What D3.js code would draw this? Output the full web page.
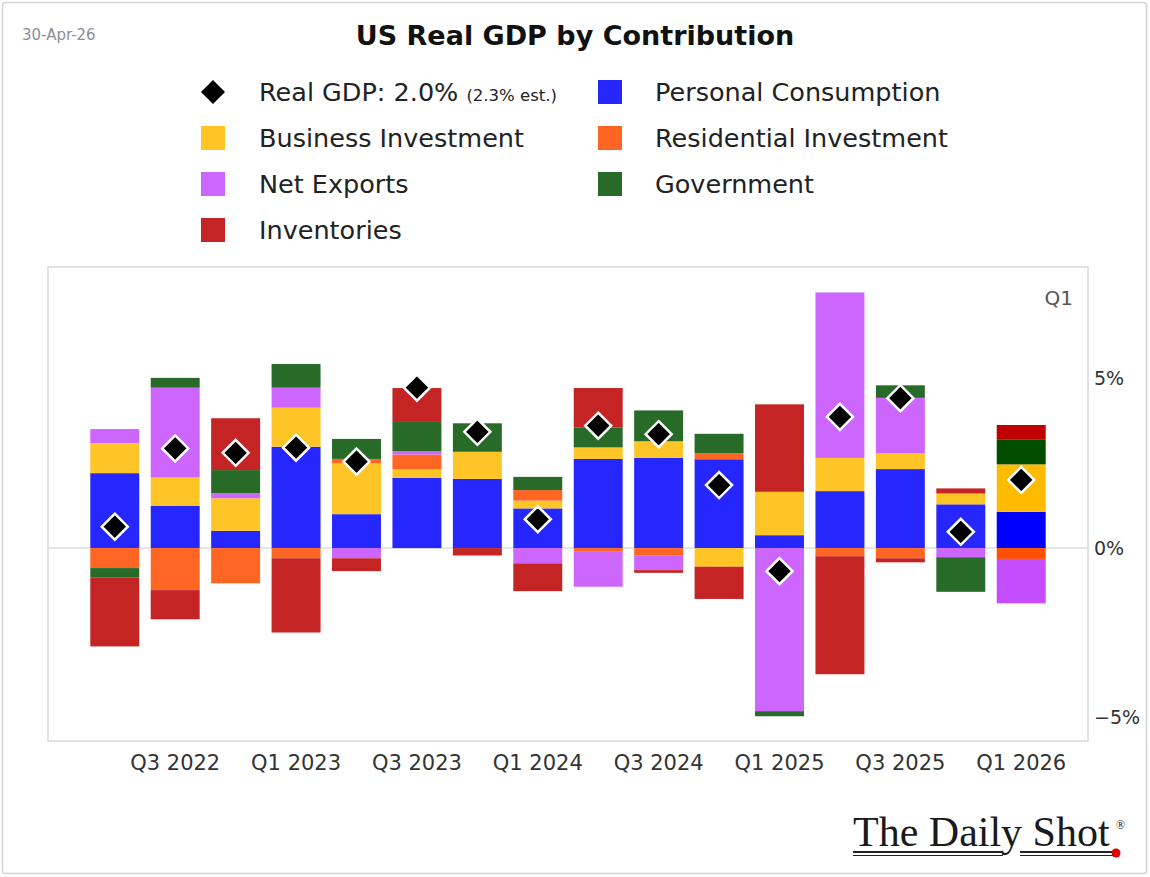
<!DOCTYPE html>
<html>
<head>
<meta charset="utf-8">
<script src="https://cdn.jsdelivr.net/npm/d3@7/dist/d3.min.js"></script>
<style>
  html, body { margin: 0; padding: 0; background: #ffffff; }
  svg { display: block; font-family: "DejaVu Sans", sans-serif; }
</style>
</head>
<body>
<svg id="chart" width="1150" height="877"></svg>
<script>
// Quarters shown on the x axis (one bar each)
const quarters = ["Q2 2022","Q3 2022","Q4 2022","Q1 2023","Q2 2023","Q3 2023","Q4 2023","Q1 2024",
                  "Q2 2024","Q3 2024","Q4 2024","Q1 2025","Q2 2025","Q3 2025","Q4 2025","Q1 2026"];

// Contributions to real GDP growth, percentage points (annualized)
const personalConsumption   = [2.21, 1.25, 0.51, 2.99, 1.00, 2.07, 2.04, 1.17, 2.63, 2.66, 2.62, 0.38, 1.68, 2.33, 1.29, 1.07];
const businessInvestment    = [0.89, 0.83, 0.96, 1.15, 1.50, 0.26, 0.80, 0.23, 0.34, 0.49, -0.55, 1.28, 0.98, 0.46, 0.32, 1.40];
const residentialInvestment = [-0.59, -1.24, -1.04, -0.30, 0.13, 0.43, 0.00, 0.31, -0.09, -0.21, 0.18, 0.00, -0.24, -0.30, 0.00, -0.32];
const netExports            = [0.41, 2.65, 0.15, 0.59, -0.30, 0.10, 0.00, -0.45, -1.05, -0.44, 0.00, -4.81, 4.88, 1.64, -0.27, -1.31];
const government            = [-0.27, 0.29, 0.68, 0.70, 0.59, 0.86, 0.84, 0.39, 0.58, 0.91, 0.57, -0.15, 0.00, 0.37, -1.02, 0.74];
const inventories           = [-2.04, -0.86, 1.53, -2.19, -0.38, 1.00, -0.22, -0.82, 1.17, -0.08, -0.95, 2.58, -3.48, -0.12, 0.15, 0.42];

// Headline real GDP growth, %
const realGDP = [0.63, 2.94, 2.81, 2.96, 2.55, 4.73, 3.43, 0.85, 3.61, 3.36, 1.86, -0.68, 3.87, 4.42, 0.48, 2.01];

// Axis ticks
const yTicks = [-5, 0, 5];
const xTickLabels = ["Q3 2022","Q1 2023","Q3 2023","Q1 2024","Q3 2024","Q1 2025","Q3 2025","Q1 2026"];

// Series definitions (stacking order, legend names, colours; the latest quarter uses brighter tones)
const seriesKeys   = ["pc", "bi", "ri", "nx", "gov", "inv"];
const seriesNames  = ["Personal Consumption", "Business Investment", "Residential Investment",
                      "Net Exports", "Government", "Inventories"];
const seriesColors = ["#2626ff", "#ffc425", "#ff6624", "#cc66ff", "#286a28", "#c42424"];
const latestColors = ["#0000ff", "#ffbb00", "#ff4f00", "#c44dff", "#004d00", "#c00000"];

const table = quarters.map((q, i) => ({
  quarter: q,
  pc: personalConsumption[i],
  bi: businessInvestment[i],
  ri: residentialInvestment[i],
  nx: netExports[i],
  gov: government[i],
  inv: inventories[i]
}));

const svg = d3.select("#chart");
const W = 1150, H = 877;

// Card outline
svg.append("rect")
  .attr("x", 2.5).attr("y", 2.5).attr("width", W - 6).attr("height", H - 6)
  .attr("rx", 3)
  .attr("fill", "#fff").attr("stroke", "#d4d4d4").attr("stroke-width", 1.5);

// Plot area
const plot = { left: 48, right: 1088, top: 267, bottom: 741 };

const x = d3.scaleBand()
  .domain(quarters)
  .range([plot.left, plot.right])
  .paddingInner(0.19)
  .paddingOuter(0.7);

const y = d3.scaleLinear()
  .domain([-5.69, 8.29])
  .range([plot.bottom, plot.top]);

// Frame
svg.append("rect")
  .attr("x", plot.left).attr("y", plot.top)
  .attr("width", plot.right - plot.left).attr("height", plot.bottom - plot.top)
  .attr("fill", "none").attr("stroke", "#d9d9d9").attr("stroke-width", 1.5);

// Zero line
svg.append("line")
  .attr("x1", plot.left).attr("x2", plot.right)
  .attr("y1", y(0)).attr("y2", y(0))
  .attr("stroke", "#dcdcdc").attr("stroke-width", 1.5);

// Diverging stacks
const stacked = d3.stack().keys(seriesKeys).offset(d3.stackOffsetDiverging)(table);

const layers = svg.append("g").selectAll("g")
  .data(stacked)
  .join("g");

layers.selectAll("rect")
  .data((layer, li) => layer.map((d, i) => ({ d, li, i })))
  .join("rect")
  .attr("x", o => x(o.d.data.quarter))
  .attr("width", x.bandwidth())
  .attr("y", o => y(Math.max(o.d[0], o.d[1])))
  .attr("height", o => Math.abs(y(o.d[0]) - y(o.d[1])))
  .attr("fill", o => o.i === quarters.length - 1 ? latestColors[o.li] : seriesColors[o.li]);

// Real GDP diamonds
const diamond = r => `M0,${-r}L${r},0L0,${r}L${-r},0Z`;
svg.append("g").selectAll("path")
  .data(realGDP)
  .join("path")
  .attr("d", diamond(13))
  .attr("transform", (v, i) => `translate(${x(quarters[i]) + x.bandwidth() / 2},${y(v)})`)
  .attr("fill", "#000")
  .attr("stroke", "#ffffff")
  .attr("stroke-width", 2.5)
  .attr("stroke-linejoin", "miter");

// Y axis on the right
const yAxis = svg.append("g")
  .attr("transform", `translate(${plot.right},0)`)
  .call(d3.axisRight(y)
    .tickValues(yTicks)
    .tickSize(0)
    .tickPadding(6)
    .tickFormat(d => (d < 0 ? "\u2212" : "") + Math.abs(d) + "%"));
yAxis.select(".domain").remove();
yAxis.selectAll("text")
  .attr("font-family", "DejaVu Sans, sans-serif")
  .attr("font-size", 19)
  .attr("fill", "#333");

// X axis labels
const xAxis = svg.append("g")
  .attr("transform", `translate(0,${plot.bottom})`)
  .call(d3.axisBottom(x)
    .tickValues(xTickLabels)
    .tickSize(0)
    .tickPadding(14));
xAxis.select(".domain").remove();
xAxis.selectAll("text")
  .attr("font-family", "DejaVu Sans, sans-serif")
  .attr("font-size", 21)
  .attr("fill", "#333");

// Latest-quarter tag
svg.append("text")
  .attr("x", 1073).attr("y", 305)
  .attr("text-anchor", "end")
  .attr("font-size", 20)
  .attr("fill", "#555")
  .text("Q1");

// Title and date
svg.append("text")
  .attr("x", 575).attr("y", 45)
  .attr("text-anchor", "middle")
  .attr("font-size", 27)
  .attr("font-weight", "bold")
  .attr("fill", "#111")
  .text("US Real GDP by Contribution");

svg.append("text")
  .attr("x", 22).attr("y", 40)
  .attr("font-size", 15)
  .attr("fill", "#8a8f99")
  .text("30-Apr-26");

// Legend
const legend = svg.append("g");
const rowY = [92, 138, 184, 230];
const col1 = { mark: 213, text: 259 };
const col2 = { mark: 610, text: 655 };

// Legend entries: first the diamond series, then the stacked components in two columns
const legendItems = [
  { type: "diamond", col: col1, row: 0 },
  { type: "rect", col: col2, row: 0, s: 0 },
  { type: "rect", col: col1, row: 1, s: 1 },
  { type: "rect", col: col2, row: 1, s: 2 },
  { type: "rect", col: col1, row: 2, s: 3 },
  { type: "rect", col: col2, row: 2, s: 4 },
  { type: "rect", col: col1, row: 3, s: 5 }
];

legendItems.forEach(it => {
  const cy = rowY[it.row];
  if (it.type === "diamond") {
    legend.append("path")
      .attr("d", diamond(12))
      .attr("transform", `translate(${it.col.mark},${cy})`)
      .attr("fill", "#000");
    const t = legend.append("text")
      .attr("x", it.col.text).attr("y", cy).attr("dy", "0.36em")
      .attr("font-size", 25.5).attr("fill", "#222");
    t.append("tspan").text("Real GDP: 2.0% ");
    t.append("tspan").attr("font-size", 16.5).text("(2.3% est.)");
  } else {
    legend.append("rect")
      .attr("x", it.col.mark - 12).attr("y", cy - 12)
      .attr("width", 24).attr("height", 24)
      .attr("fill", seriesColors[it.s]);
    legend.append("text")
      .attr("x", it.col.text).attr("y", cy).attr("dy", "0.36em")
      .attr("font-size", 25.5).attr("fill", "#222")
      .text(seriesNames[it.s]);
  }
});

// Publisher mark
const logo = svg.append("g");
logo.append("text")
  .attr("x", 853).attr("y", 846)
  .attr("font-family", "Liberation Serif, serif")
  .attr("font-size", 42)
  .attr("fill", "#1a1a1a")
  .text("The Daily Shot");
logo.append("text")
  .attr("x", 1116).attr("y", 829)
  .attr("font-family", "Liberation Serif, serif")
  .attr("font-size", 12)
  .attr("fill", "#1a1a1a")
  .text("\u00ae");
logo.append("line").attr("x1", 853).attr("x2", 1003).attr("y1", 852).attr("y2", 852)
  .attr("stroke", "#222").attr("stroke-width", 2);
logo.append("line").attr("x1", 853).attr("x2", 1003).attr("y1", 855.5).attr("y2", 855.5)
  .attr("stroke", "#222").attr("stroke-width", 1);
logo.append("line").attr("x1", 1020).attr("x2", 1114).attr("y1", 852).attr("y2", 852)
  .attr("stroke", "#222").attr("stroke-width", 2);
logo.append("line").attr("x1", 1020).attr("x2", 1114).attr("y1", 855.5).attr("y2", 855.5)
  .attr("stroke", "#222").attr("stroke-width", 1);
logo.append("circle").attr("cx", 1116).attr("cy", 853).attr("r", 4.5).attr("fill", "#e00000");
</script>
</body>
</html>
